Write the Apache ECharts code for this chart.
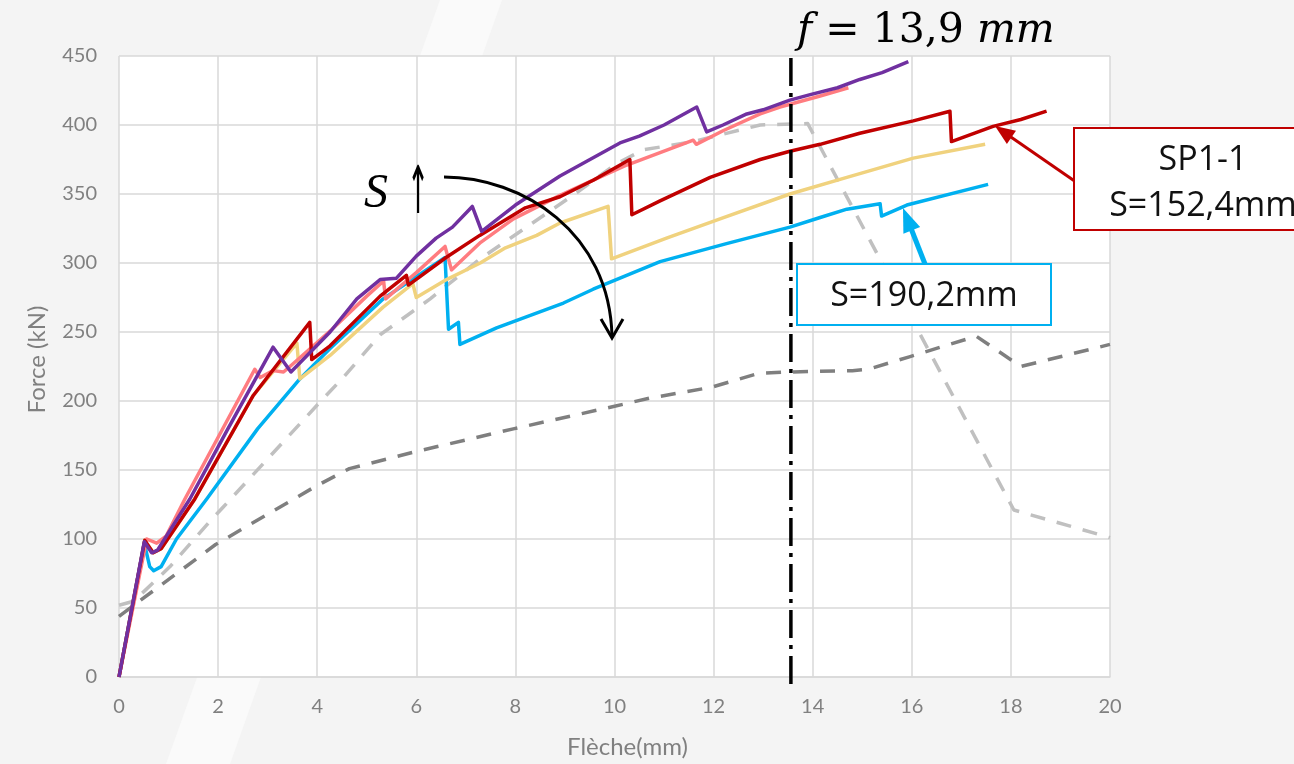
<!DOCTYPE html>
<html><head><meta charset="utf-8">
<script src="https://cdn.jsdelivr.net/npm/echarts@6/dist/echarts.min.js"></script>
<style>html,body{margin:0;padding:0;background:#F4F4F4;}#c{width:1294px;height:764px;}</style>
</head><body><div id="c"></div>
<script>
// ---- data (x = Flèche mm, y = Force kN) ----
const xAxisTitle = 'Flèche(mm)';
const yAxisTitle = 'Force (kN)';
const fLineX = 13.56;
const fLineY = [-5, 450];

const purpleS = [[0,0],[0.51,98],[0.66,90],[0.78,92],[1.43,129],[2.2,180],[3.11,239],[3.47,221],[4.26,250],[4.8,274],[5.27,288],[5.6,289],[6.0,305],[6.4,318],[6.73,326],[7.13,341],[7.32,323],[8.0,342],[8.9,363],[10.11,387],[10.5,392],[11.0,400],[11.66,413],[11.86,395],[12.19,400],[12.67,408],[13.0,411],[13.54,418],[13.95,422],[14.5,427],[14.95,433],[15.4,438],[15.93,446]];
const pinkS = [[0,0],[0.56,100],[0.76,97],[0.95,102],[1.33,129],[2.74,223],[2.85,217],[3.11,222],[3.32,221],[3.45,225],[4.3,252],[5.0,276],[5.34,287],[5.38,274],[6.0,293],[6.58,312],[6.71,295],[7.3,315],[7.96,332],[8.9,349],[9.57,360],[10.25,371],[11.0,381],[11.59,389],[11.65,386],[12.2,396],[12.94,408],[13.34,413],[14.15,421],[14.72,427]];
const redS = [[0,0],[0.52,99],[0.69,90],[0.85,93],[1.53,129],[2.71,204],[3.85,257],[3.89,230],[4.26,240],[5.27,276],[5.8,291],[5.84,284],[6.6,304],[7.28,320],[8.2,340],[8.9,348],[9.57,360],[10.31,375],[10.35,335],[10.92,345],[11.93,362],[12.94,375],[13.54,381],[14.15,386],[14.95,394],[16.03,403],[16.77,410],[16.8,388],[17.64,399],[18.2,404],[18.72,410]];
const yellowS = [[0,0],[0.52,99],[0.69,90],[0.85,93],[1.53,129],[2.71,204],[3.59,242],[3.65,216],[4.26,233],[5.33,268],[5.93,285],[6.0,275],[6.61,288],[7.29,300],[7.8,311],[8.43,320],[8.9,329],[9.87,341],[9.94,303],[11.05,318],[12.13,332],[13.54,350],[14.69,362],[16.03,376],[17.48,386]];
const cyanS = [[0,0],[0.51,97],[0.62,80],[0.7,77],[0.85,80],[1.16,100],[1.77,129],[2.8,180],[3.65,216],[4.26,238],[5.33,274],[6.0,290],[6.58,304],[6.65,252],[6.85,257],[6.88,241],[7.62,253],[8.97,271],[9.57,281],[10.92,301],[12.26,314],[13.54,326],[14.15,333],[14.69,339],[15.36,343],[15.39,334],[15.9,342],[17.54,357]];
const darkGrayS = [[0,44],[1.95,96],[3.96,138],[4.65,151],[5.95,163],[7.98,180],[9.98,196],[10.7,202],[11.96,210],[12.9,220],[13.5,221],[14.8,222],[15.12,223],[15.95,232],[17.3,247],[18.2,225],[20,241]];
const lightGrayS = [[0,52],[0.3,55],[1.03,80],[1.84,113],[2.1,123],[4.05,199],[4.55,218],[5.27,248],[6.28,274],[7.29,303],[9.24,351],[10.04,372],[10.58,382],[11.59,388],[12.94,400],[13.9,401],[18.06,121],[20,101]];

const titleParts = ['f', ' = 13,9 ', 'mm'];
const sLabel = 'S';
const sArrow = '↑';
const redBoxText = ['SP1-1', 'S=152,4mm'];
const cyanBoxText = 'S=190,2mm';

const chart = echarts.init(document.getElementById('c'));

function line(name, data, color, width, type, z) {
  return { name, type: 'line', data, showSymbol: false, symbol: 'none', silent: true, z: z,
    lineStyle: { color, width, type: type || 'solid', cap: 'butt', join: 'round' },
    emphasis: { disabled: true }, animation: false };
}
function arrow(x1, y1, x2, y2, color, w, hl, hw) {
  const dx = x2 - x1, dy = y2 - y1, L = Math.hypot(dx, dy), ux = dx / L, uy = dy / L;
  const bx = x2 - ux * hl, by = y2 - uy * hl, px = -uy, py = ux;
  return [
    { type: 'line', z: 200, shape: { x1, y1, x2: bx + ux * 2, y2: by + uy * 2 }, style: { stroke: color, lineWidth: w } },
    { type: 'polygon', z: 201, shape: { points: [[x2, y2], [bx + px * hw / 2, by + py * hw / 2], [bx - px * hw / 2, by - py * hw / 2]] }, style: { fill: color } }
  ];
}

const gridColor = '#D9D9D9';
const labelColor = '#808080';
const uiFont = 'Lato';

const option = {
  backgroundColor: '#F4F4F4',
  animation: false,
  grid: { left: 119, right: 184, top: 56, bottom: 85, show: true, backgroundColor: '#FFFFFF', borderWidth: 0 },
  xAxis: {
    type: 'value', min: 0, max: 20, interval: 2,
    name: xAxisTitle, nameLocation: 'middle', nameGap: 58,
    nameTextStyle: { color: labelColor, fontFamily: uiFont, fontSize: 24, padding: [0, 0, 0, 26] },
    axisLine: { show: true, lineStyle: { color: gridColor, width: 1.5 } },
    axisTick: { show: false },
    axisLabel: { color: labelColor, fontFamily: uiFont, fontSize: 20, margin: 20 },
    splitLine: { show: true, lineStyle: { color: gridColor, width: 1.5 } }
  },
  yAxis: {
    type: 'value', min: 0, max: 450, interval: 50,
    name: yAxisTitle, nameLocation: 'middle', nameGap: 70, nameRotate: 90,
    nameTextStyle: { color: labelColor, fontFamily: uiFont, fontSize: 24, padding: [0, 0, 0, 14] },
    axisLine: { show: false },
    axisTick: { show: false },
    axisLabel: { color: labelColor, fontFamily: uiFont, fontSize: 20, margin: 22 },
    splitLine: { show: true, lineStyle: { color: gridColor, width: 1.5 } }
  },
  series: [
    line('gray-dark', darkGrayS, '#7F7F7F', 3.5, [15, 12], 2),
    line('gray-light', lightGrayS, '#C0C0C0', 3.5, [15, 12], 3),
    line('S=190,2mm', cyanS, '#00B0F0', 3.5, 'solid', 4),
    line('yellow', yellowS, '#F0D27E', 3.5, 'solid', 5),
    line('pink', pinkS, '#FF7C80', 3.5, 'solid', 6),
    line('SP1-1', redS, '#C00000', 3.5, 'solid', 7),
    line('purple', purpleS, '#7030A0', 3.5, 'solid', 8),
    Object.assign(line('f', [[fLineX, fLineY[0]], [fLineX, fLineY[1]]], '#000000', 3.5, [28, 7, 4, 7], 9), { clip: false })
  ],
  graphic: [
    { type: 'polygon', z: -1, silent: true, shape: { points: [[440, 0], [502, 0], [230, 764], [166, 764]] }, style: { fill: '#FAFAFA' } },
    // title f = 13,9 mm
    { type: 'text', z: 200, x: 797, y: 31, style: {
      text: '{i|' + titleParts[0] + '}{n|' + titleParts[1] + '}{i|' + titleParts[2] + '}',
      verticalAlign: 'middle', align: 'left',
      rich: {
        i: { fontFamily: 'DejaVu Serif', fontStyle: 'italic', fontSize: 41, fill: '#000' },
        n: { fontFamily: 'DejaVu Serif', fontSize: 41, fill: '#000' }
      } } },
    // S ↑
    { type: 'text', z: 200, x: 364, y: 194, style: { text: sLabel, font: 'italic 48px "Liberation Serif"', fill: '#000', verticalAlign: 'middle', align: 'left' } },
    { type: 'text', z: 200, x: 418, y: 196, scaleX: 0.4, style: { text: sArrow, font: '66px "DejaVu Sans"', fill: '#000', verticalAlign: 'middle', align: 'center' } },
    // curved arrow
    { type: 'bezierCurve', z: 200, shape: { x1: 444, y1: 177, cpx1: 522, cpy1: 177, cpx2: 610, cpy2: 232, x2: 612, y2: 337 }, style: { stroke: '#000', lineWidth: 3, fill: null } },
    { type: 'polyline', z: 200, shape: { points: [[601, 319], [612, 338], [623, 319]] }, style: { stroke: '#000', lineWidth: 3, fill: null } },
    // red box + arrow
    ...arrow(1076, 182, 995, 126, '#C00000', 3, 20, 16),
    { type: 'rect', z: 210, shape: { x: 1074, y: 128, width: 262, height: 102 }, style: { fill: '#FFFFFF', stroke: '#C00000', lineWidth: 2 } },
    { type: 'text', z: 211, x: 1203, y: 183, style: { text: redBoxText.join('\n'), font: '34px "Open Sans"', lineHeight: 46, fill: '#111', align: 'center', verticalAlign: 'middle' } },
    // cyan box + arrow
    ...arrow(925, 264, 903, 208, '#00B0F0', 5, 24, 18),
    { type: 'rect', z: 210, shape: { x: 797, y: 264, width: 254, height: 61 }, style: { fill: '#FFFFFF', stroke: '#00B0F0', lineWidth: 2 } },
    { type: 'text', z: 211, x: 924, y: 296, style: { text: cyanBoxText, font: '34px "Open Sans"', fill: '#111', align: 'center', verticalAlign: 'middle' } }
  ]
};
chart.setOption(option);
</script>
</body></html>
